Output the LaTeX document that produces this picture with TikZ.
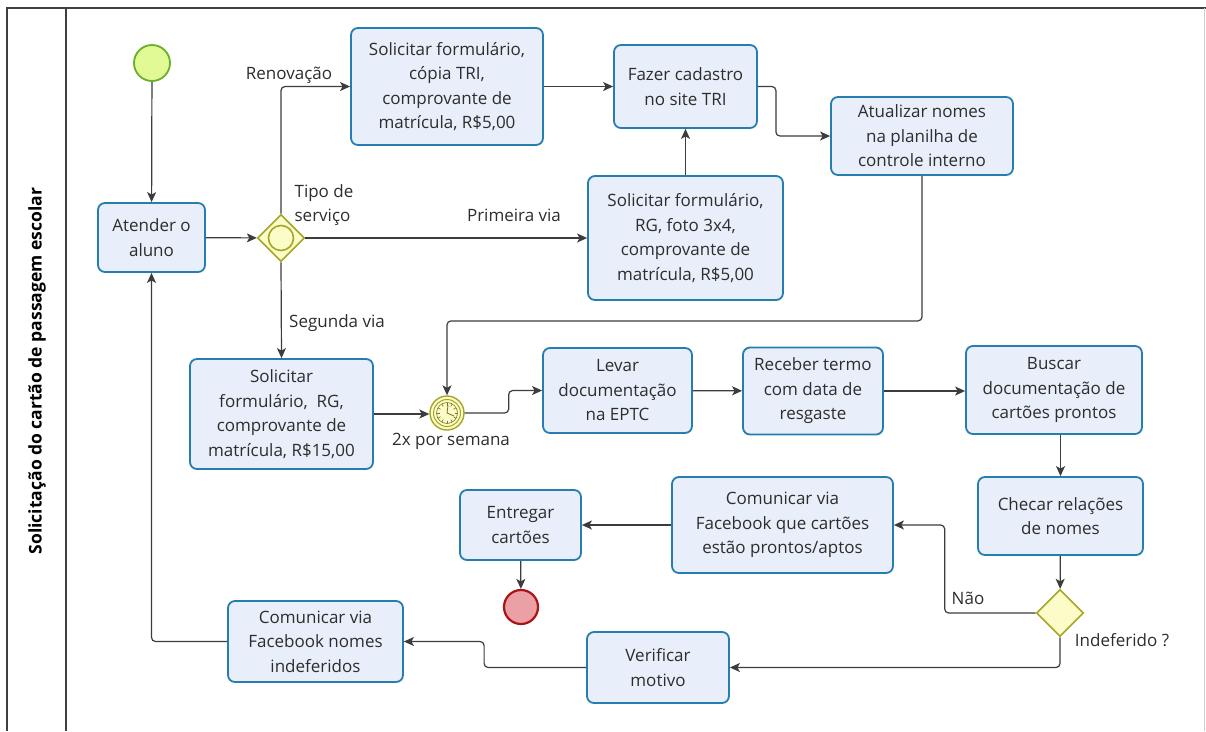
\documentclass[tikz,border=0pt]{standalone}
\usepackage{fontspec}
\setmainfont{Open Sans}
\usetikzlibrary{arrows.meta,shapes.geometric}

\definecolor{taskline}{RGB}{38,125,175}
\definecolor{taskfill}{RGB}{232,238,250}
\definecolor{gwline}{RGB}{165,165,40}
\definecolor{gwfill}{RGB}{252,252,200}
\definecolor{startline}{RGB}{105,175,40}
\definecolor{startfill}{RGB}{225,250,150}
\definecolor{endline}{RGB}{170,20,20}
\definecolor{endfill}{RGB}{235,160,165}
\definecolor{flow}{RGB}{60,60,60}
\definecolor{txt}{RGB}{45,45,45}

\begin{document}
\begin{tikzpicture}[x=1pt, y=-1pt,
  every node/.style={font=\fontsize{17}{24.5}\selectfont, text=txt},
  task/.style={rectangle, rounded corners=7pt, draw=taskline, line width=1.8pt,
    fill=taskfill, align=center, inner sep=0pt},
  gate/.style={diamond, draw=gwline, line width=1.6pt, fill=gwfill,
    minimum size=47pt, inner sep=0pt},
  startev/.style={circle, draw=startline, line width=1.8pt, fill=startfill, minimum size=36pt},
  endev/.style={circle, draw=endline, line width=2.2pt, fill=endfill, minimum size=34pt},
  timerev/.style={circle, draw=gwline, line width=1.4pt, fill=gwfill, minimum size=34pt},
  lbl/.style={inner sep=1pt, align=left},
  flowline/.style={draw=flow, line width=1.2pt, rounded corners=4pt,
    -{Stealth[length=10pt, width=9pt, inset=2.5pt]}}]
\useasboundingbox (0,0) rectangle (1206,731);
% pool and lane
\draw[line width=1.6pt, draw=black!75] (7,731) -- (7,8) -- (1206,8);
\draw[line width=1.2pt, draw=black!75] (66,8) -- (66,731);
\draw[line width=1pt, draw=black!20] (1204,8) -- (1204,731);
\node[rotate=90, font=\fontsize{17.5}{20}\selectfont\bfseries, text=black] (lane) at (37,371)
  {Solicitação do cartão de passagem escolar};

% events and gateways
\node[startev] (start) at (152,63) {};
\node[gate] (tipo) at (281,238) {};
\draw[gwline, line width=1.6pt] (tipo.center) circle (12.5);
\node[gate] (indef) at (1060,613) {};
\node[endev] (fim) at (521,607) {};
\node[timerev] (timer) at (447,413) {};
\draw[gwline, line width=1pt] (timer.center) circle (13.5);
\draw[gwline!70!black, line width=0.6pt] (timer.center) circle (10.5);
\foreach \a in {0,30,...,330}
  \draw[gwline!70!black, line width=0.6pt] (timer.center) ++(\a:7.5) -- ++(\a:2.5);
\draw[gwline!70!black, line width=0.8pt] (timer.center) -- ++(1,-8)
  (timer.center) -- ++(7,3);

% tasks
\node[task, minimum width=107, minimum height=69] (atender) at (151.5,237.5) {Atender o\\aluno};
\node[task, minimum width=192, minimum height=117] (renov) at (447,86.5)
  {Solicitar formulário,\\cópia TRI,\\comprovante de\\matrícula, R\$5,00};
\node[task, minimum width=143, minimum height=83] (cadastro) at (685.5,86.5) {Fazer cadastro\\no site TRI};
\node[task, minimum width=195, minimum height=124] (primeira) at (685.5,238)
  {Solicitar formulário,\\RG, foto 3x4,\\comprovante de\\matrícula, R\$5,00};
\node[task, minimum width=182, minimum height=78] (atualizar) at (922,136)
  {Atualizar nomes\\na planilha de\\controle interno};
\node[task, minimum width=183, minimum height=110] (segunda) at (281.5,414)
  {Solicitar\\formulário,~~RG,\\comprovante de\\matrícula, R\$15,00};
\node[task, minimum width=149, minimum height=85] (levar) at (617.5,390.5) {Levar\\documentação\\na EPTC};
\node[task, minimum width=140, minimum height=87] (receber) at (813,391) {Receber termo\\com data de\\resgaste};
\node[task, minimum width=176, minimum height=88] (buscar) at (1054,390)
  {Buscar\\documentação de\\cartões prontos};
\node[task, minimum width=165, minimum height=78] (checar) at (1060.5,516) {Checar relações\\de nomes};
\node[task, minimum width=221, minimum height=96] (prontos) at (782.5,525)
  {Comunicar via\\Facebook que cartões\\estão prontos/aptos};
\node[task, minimum width=121, minimum height=70] (entregar) at (520.5,525) {Entregar\\cartões};
\node[task, minimum width=142, minimum height=71] (verificar) at (658,667.5) {Verificar\\motivo};
\node[task, minimum width=175, minimum height=81] (indeferidos) at (315.5,641.5)
  {Comunicar via\\Facebook nomes\\indeferidos};

% labels
\node[lbl] (lrenov) at (289,75) {Renovação};
\node[lbl] (ltipo) at (324,205) {Tipo de\\serviço};
\node[lbl] (lprim) at (514,215) {Primeira via};
\node[lbl] (lseg) at (337,323) {Segunda via};
\node[lbl] (ltimer) at (451,441) {2x por semana};
\node[lbl] (lnao) at (968,598) {Não};
\node[lbl] (lindef) at (1122,640) {Indeferido ?};

% flows
\draw[flowline] (start) -- (atender);
\draw[flowline] (atender) -- (tipo);
\draw[flowline] (tipo.north) |- (renov.west);
\draw[flowline] (renov.east) -- (renov.east -| cadastro.west);
\draw[flowline] (tipo.east) -- (primeira.west);
\draw[flowline] (primeira) -- (cadastro);
\draw[flowline] (cadastro.east) -- ++(18,0) |- (atualizar.west);
\draw[flowline] (atualizar.south) -- ++(0,145) -| (timer.north);
\draw[flowline] (tipo.south) -- (segunda.north);
\draw[flowline] (segunda.east) -- (segunda.east -| timer.west);
\draw[flowline] (timer.east) -- ++(44,0) |- (levar.west);
\draw[flowline] (levar) -- (receber);
\draw[flowline] (receber.east) -- (receber.east -| buscar.west);
\draw[flowline] (checar.north |- buscar.south) -- (checar.north);
\draw[flowline] (checar) -- (indef);
\draw[flowline] (indef.west) -- ++(-91,0) |- (prontos.east);
\draw[flowline] (prontos) -- (entregar);
\draw[flowline] (entregar) -- (fim);
\draw[flowline] (indef.south) |- (verificar.east);
\draw[flowline] (verificar.west) -- ++(-102,0) |- (indeferidos.east);
\draw[flowline] (indeferidos.west) -| (atender.south);
\end{tikzpicture}
\end{document}
